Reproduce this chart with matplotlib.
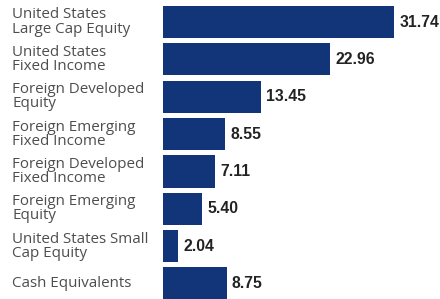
import matplotlib.pyplot as plt

# data
categories = [
    "United States\nLarge Cap Equity",
    "United States\nFixed Income",
    "Foreign Developed\nEquity",
    "Foreign Emerging\nFixed Income",
    "Foreign Developed\nFixed Income",
    "Foreign Emerging\nEquity",
    "United States Small\nCap Equity",
    "Cash Equivalents",
]
values = [31.74, 22.96, 13.45, 8.55, 7.11, 5.40, 2.04, 8.75]

BAR_COLOR = "#12357a"
LABEL_COLOR = "#4d4d4d"
VALUE_COLOR = "#222222"

fig = plt.figure(figsize=(4.4, 2.99), dpi=100)
ax = fig.add_axes([163 / 440, 0, 277 / 440, 1])

pos = list(range(len(categories)))
ax.barh(pos, values, height=0.86, color=BAR_COLOR)

ax.set_xlim(0, 38.05)
ax.set_ylim(7.414, -0.589)
ax.axis("off")

# value labels to the right of bars
for p, v in zip(pos, values):
    ax.annotate(f"{v:.2f}", xy=(v, p), xytext=(3.8, 0), textcoords="offset points",
                ha="left", va="center", fontsize=11.3, fontweight="bold",
                family="Liberation Sans", color=VALUE_COLOR)

# category labels on the left
for p, c in zip(pos, categories):
    ax.annotate(c, xy=(0, p), xycoords=("axes fraction", "data"),
                xytext=(12, p), textcoords=("figure pixels", "data"),
                ha="left", va="center", fontsize=10.9, family="Open Sans",
                color=LABEL_COLOR, linespacing=0.92)

fig.savefig("out.png", dpi=100)
